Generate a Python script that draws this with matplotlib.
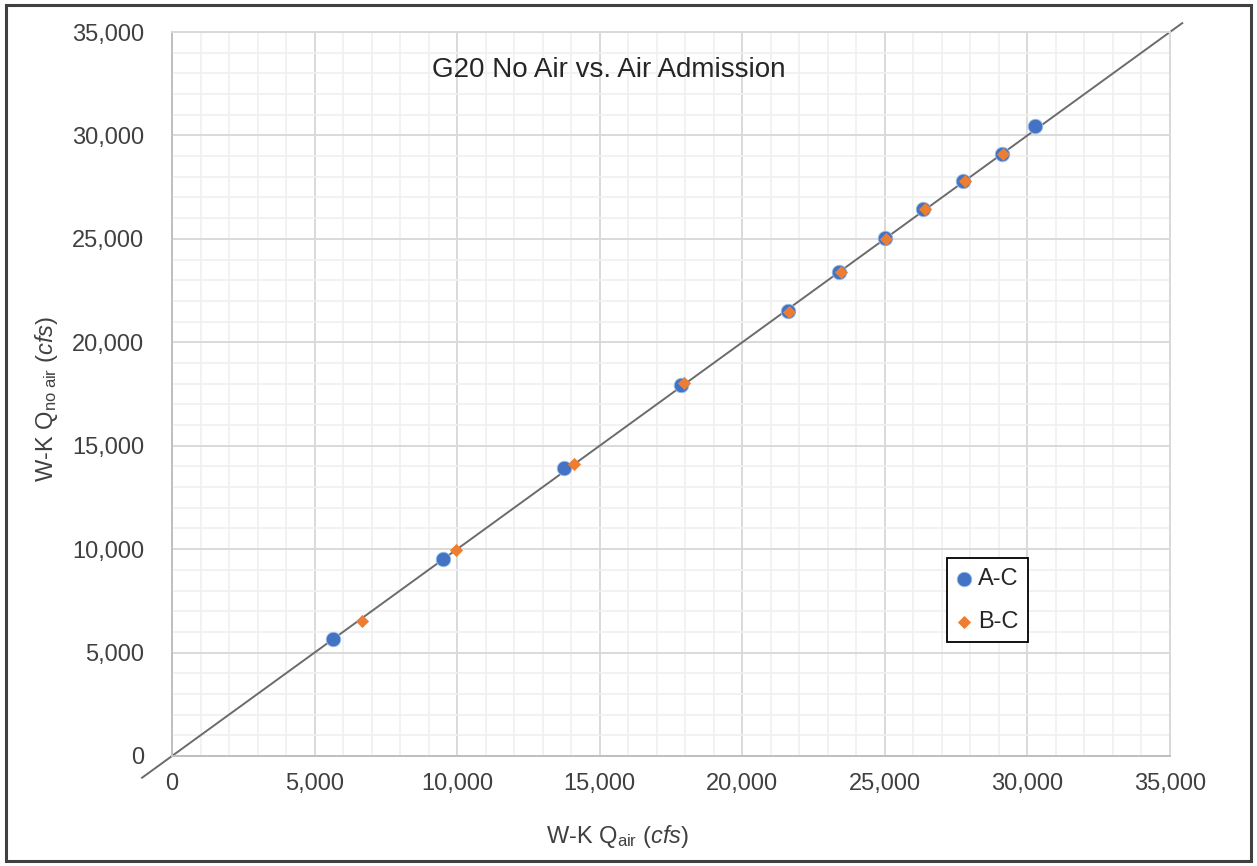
import matplotlib
matplotlib.use("Agg")
import matplotlib.pyplot as plt
from matplotlib.ticker import MultipleLocator, FuncFormatter
from matplotlib.patches import Rectangle

plt.rcParams['font.family'] = ['Liberation Sans', 'DejaVu Sans']
plt.rcParams['mathtext.fontset'] = 'custom'
plt.rcParams['mathtext.rm'] = 'Liberation Sans'
plt.rcParams['mathtext.it'] = 'Liberation Sans:italic'

# ---- data ----
title = "G20 No Air vs. Air Admission"
ac_x = [5650, 9500, 13750, 17850, 21600, 23400, 25000, 26350, 27750, 29100, 30250]
ac_y = [5650, 9520, 13900, 17950, 21500, 23400, 25050, 26450, 27800, 29100, 30450]
bc_x = [6650, 9950, 14100, 17950, 21650, 23450, 25050, 26400, 27800, 29150]
bc_y = [6520, 9970, 14130, 18050, 21450, 23400, 25000, 26450, 27800, 29100]
line_x = [-1050, 35430]
line_y = [-1050, 35430]
ticks = [0, 5000, 10000, 15000, 20000, 25000, 30000, 35000]

W, H = 1257, 866
fig = plt.figure(figsize=(W / 100, H / 100), dpi=100)
ax = fig.add_axes([172 / W, 1 - 756 / H, (1170 - 172) / W, (756 - 32) / H])

ax.set_xlim(0, 35000)
ax.set_ylim(0, 35000)
ax.xaxis.set_major_locator(MultipleLocator(5000))
ax.yaxis.set_major_locator(MultipleLocator(5000))
ax.xaxis.set_minor_locator(MultipleLocator(1000))
ax.yaxis.set_minor_locator(MultipleLocator(1000))
fmt = FuncFormatter(lambda v, p: f"{int(v):,}")
ax.xaxis.set_major_formatter(fmt)
ax.yaxis.set_major_formatter(fmt)
ax.set_xticks(ticks)
ax.set_yticks(ticks)
ax.grid(which='major', color='#d9d9d9', linewidth=1.4)
ax.grid(which='minor', color='#f0f0f0', linewidth=1.2)
ax.set_axisbelow(True)
ax.tick_params(which='both', length=0)
ax.tick_params(axis='x', labelsize=17, pad=12, colors='#404040')
ax.tick_params(axis='y', labelsize=17, pad=20, colors='#404040')
for s in ['top', 'right']:
    ax.spines[s].set_color('#d9d9d9')
for s in ['left', 'bottom']:
    ax.spines[s].set_color('#bfbfbf')
for s in ax.spines.values():
    s.set_linewidth(1.4)

ax.plot(line_x, line_y, color='#6b6b6b', linewidth=1.4, clip_on=False, zorder=2)
ax.scatter(ac_x, ac_y, s=110, color='#4472c4', edgecolor='#9dc3e6', linewidth=0.6,
           zorder=3, label='A-C')
ax.scatter(bc_x, bc_y, s=45, marker='D', color='#ed7d31', linewidth=0,
           zorder=4, label='B-C')

leg = ax.legend(loc='upper left', bbox_to_anchor=(0.777, 0.273), fontsize=17,
                frameon=True, fancybox=False, edgecolor='black', framealpha=1,
                handlelength=0.6, handletextpad=0.3, borderpad=0.4,
                labelspacing=0.9, borderaxespad=0, scatterpoints=1)
leg.get_frame().set_linewidth(1.3)
for t in leg.get_texts():
    t.set_color('#262626')

fig.text(609 / W, 1 - 70 / H, title, fontsize=20, ha='center', va='center', color='#262626')
fig.text(618 / W, 1 - 836 / H, r'W-K Q$_{\mathrm{air}}$ ($\mathit{cfs}$)', fontsize=17,
         ha='center', va='center', color='#404040')
fig.text(47 / W, 1 - 399 / H, r'W-K Q$_{\mathrm{no\ air}}$ ($\mathit{cfs}$)', fontsize=17,
         ha='center', va='center', rotation=90, color='#404040')

fig.patches.append(Rectangle((6 / W, 5 / H), (1251 - 6) / W, (861 - 5) / H,
                             transform=fig.transFigure, fill=False,
                             edgecolor='#404040', linewidth=2.2))

fig.savefig('out.png', dpi=100)
